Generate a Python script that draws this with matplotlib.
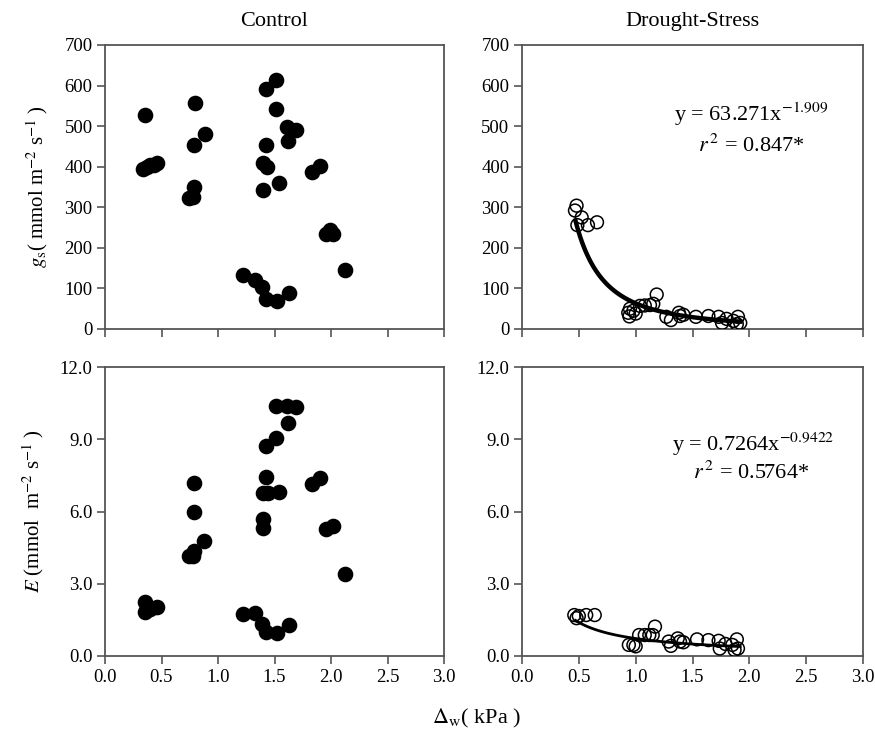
import matplotlib
matplotlib.use('Agg')
import matplotlib.pyplot as plt
import numpy as np

plt.rcParams['font.family'] = ['Liberation Serif', 'DejaVu Serif']
plt.rcParams['mathtext.fontset'] = 'stix'

# Control - stomatal conductance
x_ctrl_gs = [0.35, 0.34, 0.37, 0.40, 0.43, 0.46,
             0.74, 0.78, 0.79, 0.79, 0.80, 0.885,
             1.22, 1.33, 1.39, 1.425, 1.52, 1.63,
             1.40, 1.40, 1.43, 1.425, 1.425, 1.51, 1.51, 1.54, 1.615, 1.69, 1.617,
             1.83, 1.90, 1.96, 1.99, 2.02, 2.12]
y_ctrl_gs = [527, 395, 400, 405, 405, 410,
             322, 326, 351, 453, 556, 481,
             133, 122, 103, 73, 70, 88,
             343, 408, 400, 453, 591, 614, 542, 361, 499, 490, 463,
             388, 402, 234, 244, 234, 145]

# Control - transpiration
x_ctrl_e = [0.35, 0.35, 0.40, 0.46,
            0.74, 0.78, 0.79, 0.88, 0.79, 0.79,
            1.22, 1.33, 1.39, 1.425, 1.52, 1.63,
            1.40, 1.40, 1.40, 1.445, 1.425, 1.54, 1.425, 1.513, 1.617, 1.51, 1.615, 1.69,
            1.83, 1.90, 1.96, 2.02, 2.12]
y_ctrl_e = [2.23, 1.81, 1.95, 2.02,
            4.15, 4.15, 4.36, 4.78, 5.98, 7.2,
            1.74, 1.77, 1.33, 1.01, 0.94, 1.29,
            5.33, 5.68, 6.76, 6.76, 7.42, 6.82, 8.72, 9.04, 9.66, 10.38, 10.38, 10.33,
            7.14, 7.38, 5.27, 5.41, 3.39]

# Drought-stress - stomatal conductance
x_dr_gs = [0.48, 0.466, 0.525, 0.487, 0.58, 0.66,
           1.185, 0.935, 0.945, 0.95, 0.98, 1.00, 1.038, 1.08, 1.126, 1.155,
           1.27, 1.31, 1.38, 1.39, 1.42,
           1.53, 1.64, 1.73, 1.76, 1.80, 1.86, 1.90, 1.92, 1.89]
y_dr_gs = [304, 292, 275, 256, 256, 263,
           85, 40, 31, 50, 45, 38, 57, 58, 59, 62,
           30, 22, 40, 32, 35,
           30, 32, 30, 15, 25, 20, 30, 15, 12]

# Drought-stress - transpiration
x_dr_e = [0.46, 0.50, 0.565, 0.64, 0.48,
          1.17, 0.94, 0.98, 1.00, 1.03, 1.08, 1.12, 1.15,
          1.29, 1.31, 1.37, 1.39, 1.42,
          1.54, 1.64, 1.73, 1.74, 1.79, 1.85, 1.89, 1.90, 1.87]
y_dr_e = [1.70, 1.66, 1.70, 1.70, 1.57,
          1.22, 0.46, 0.46, 0.40, 0.87, 0.87, 0.87, 0.87,
          0.60, 0.42, 0.73, 0.60, 0.57,
          0.69, 0.66, 0.63, 0.31, 0.50, 0.46, 0.69, 0.31, 0.25]

# power fits shown on the chart
fit_gs = (63.271, -1.909)
fit_e = (0.7264, -0.9422)
fit_range = (0.47, 1.92)

fig = plt.figure(figsize=(8.75, 7.31), dpi=100)
W, H = 875, 731


def make_ax(x0, x1, y0, y1):
    return fig.add_axes([x0 / W, 1 - y1 / H, (x1 - x0) / W, (y1 - y0) / H])


ax1 = make_ax(105, 444, 45, 329)
ax2 = make_ax(522, 863, 45, 329)
ax3 = make_ax(105, 444, 367, 656)
ax4 = make_ax(522, 863, 367, 656)

for ax in (ax1, ax2, ax3, ax4):
    ax.set_xlim(0, 3.0)
    ax.set_xticks(np.arange(0, 3.01, 0.5))
    for s in ax.spines.values():
        s.set_color('#555555')
        s.set_linewidth(1.3)
    ax.tick_params(direction='out', length=6, width=1.2, color='#555555',
                   labelsize=13.5, pad=3, top=False, right=False)

for ax in (ax1, ax2):
    ax.set_ylim(0, 700)
    ax.set_yticks(np.arange(0, 701, 100))
    ax.set_xticklabels([])
for ax in (ax3, ax4):
    ax.set_ylim(0, 12)
    ax.set_yticks(np.arange(0, 12.1, 3))
    ax.set_yticklabels(['%.1f' % v for v in np.arange(0, 12.1, 3)])
    ax.set_xticklabels(['%.1f' % v for v in np.arange(0, 3.01, 0.5)])

ax1.scatter(x_ctrl_gs, y_ctrl_gs, s=105, color='black', zorder=3)
ax3.scatter(x_ctrl_e, y_ctrl_e, s=105, color='black', zorder=3)

ax2.scatter(x_dr_gs, y_dr_gs, s=85, facecolors='none', edgecolors='black', linewidths=1.1, zorder=3)
ax4.scatter(x_dr_e, y_dr_e, s=85, facecolors='none', edgecolors='black', linewidths=1.1, zorder=3)

xf = np.linspace(fit_range[0], fit_range[1], 100)
ax2.plot(xf, fit_gs[0] * xf ** fit_gs[1], color='black', lw=3.2, zorder=4)
ax4.plot(xf, fit_e[0] * xf ** fit_e[1], color='black', lw=2.0, zorder=4)

ax2.text(2.02, 530, 'y = 63.271x$^{-1.909}$', fontsize=16, ha='center', va='center')
ax2.text(2.02, 452, r'$r^{\,2}$ = 0.847*', fontsize=16, ha='center', va='center')
ax4.text(2.03, 8.8, 'y = 0.7264x$^{-0.9422}$', fontsize=16, ha='center', va='center')
ax4.text(2.02, 7.6, r'$r^{\,2}$ = 0.5764*', fontsize=16, ha='center', va='center')

ax1.set_title('Control', fontsize=16, pad=14)
ax2.set_title('Drought-Stress', fontsize=16, pad=14)

ax1.set_ylabel(r'$g_{\rm s}$( mmol m$^{-2}$ s$^{-1}$ )', fontsize=15, labelpad=10)
ax3.set_ylabel(r'$E$ (mmol  m$^{-2}$ s$^{-1}$ )', fontsize=15, labelpad=10)

fig.text(477 / W, 1 - 718 / H, r'$\Delta_{\rm w}$( kPa )', fontsize=16, ha='center', va='center')

fig.savefig('out.png', dpi=100, facecolor='white')
